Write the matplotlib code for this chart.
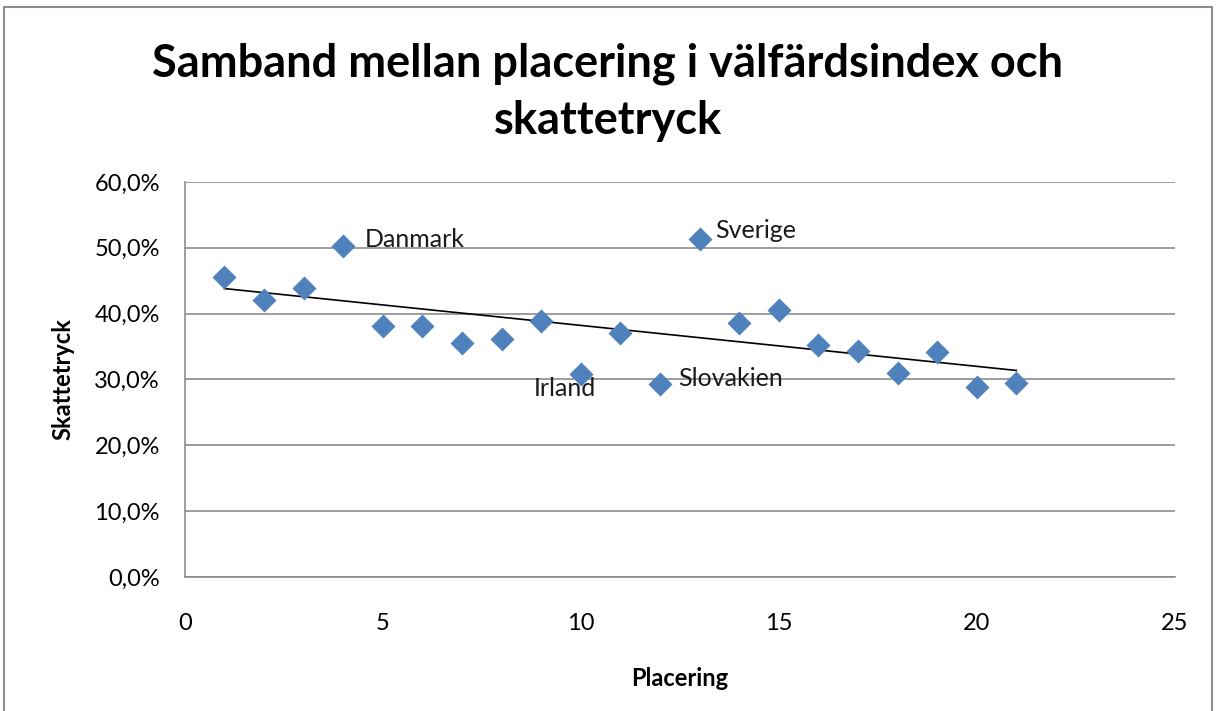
import numpy as np
import matplotlib.pyplot as plt
from matplotlib.patches import Rectangle

placering = [1, 2, 3, 4, 5, 6, 7, 8, 9, 10, 11, 12, 13, 14, 15, 16, 17, 18, 19, 20, 21]
skattetryck = [45.6, 42.1, 43.9, 50.3, 38.1, 38.1, 35.5, 36.2, 38.9, 30.8, 37.1,
               29.3, 51.3, 38.6, 40.6, 35.2, 34.3, 31.0, 34.2, 28.9, 29.5]

# labelled countries: (placering, text, dx, dy, ha, va)
etiketter = [(4, "Danmark", 0.55, 0.9, "left", "center"),
             (13, "Sverige", 0.4, 1.3, "left", "center"),
             (10, "Irland", -0.4, -0.4, "center", "top"),
             (12, "Slovakien", 0.45, 0.9, "left", "center")]

FONT = ["Lato", "DejaVu Sans"]
plt.rcParams['font.family'] = FONT

fig = plt.figure(figsize=(12.16, 7.11), dpi=100)
ax = fig.add_axes([0.152, 0.1885, 0.814, 0.5555])

fig.patches.append(Rectangle((0.003, -0.01), 0.994, 1.0, transform=fig.transFigure,
                             fill=False, edgecolor="#8c8c8c", linewidth=1.5))

x = np.array(placering)
y = np.array(skattetryck)
ax.scatter(x, y, marker="D", s=150, color="#4F81BD", zorder=3, linewidths=0)

k, m = np.polyfit(x, y, 1)
ax.plot([x.min(), x.max()], [k * x.min() + m, k * x.max() + m], color="black", lw=1.2, zorder=2)

for p, txt, dx, dy, ha, va in etiketter:
    ax.text(p + dx, y[p - 1] + dy, txt, fontsize=18, ha=ha, va=va, color="#1a1a1a")

ax.set_xlim(0, 25)
ax.set_ylim(0, 60)
ax.set_xticks(range(0, 26, 5))
ax.set_yticks(range(0, 61, 10))
ax.set_yticklabels(["{0},0%".format(v) for v in range(0, 61, 10)])
ax.tick_params(length=0, labelsize=17, pad=18)
ax.tick_params(axis="x", pad=26)
ax.grid(axis="y", color="#8c8c8c", lw=1.2)
ax.set_axisbelow(True)
for s in ["top", "right"]:
    ax.spines[s].set_visible(False)
for s in ["left", "bottom"]:
    ax.spines[s].set_color("#8c8c8c")
    ax.spines[s].set_linewidth(1.2)

ax.set_xlabel("Placering", fontsize=17, fontweight="bold", labelpad=24)
ax.set_ylabel("Skattetryck", fontsize=17, fontweight="bold", labelpad=14)

fig.text(0.5, 0.91, "Samband mellan placering i välfärdsindex och", fontsize=32.5,
         fontweight="bold", ha="center", va="center")
fig.text(0.5, 0.83, "skattetryck", fontsize=32.5, fontweight="bold", ha="center", va="center")

fig.savefig("out.png", dpi=100)
